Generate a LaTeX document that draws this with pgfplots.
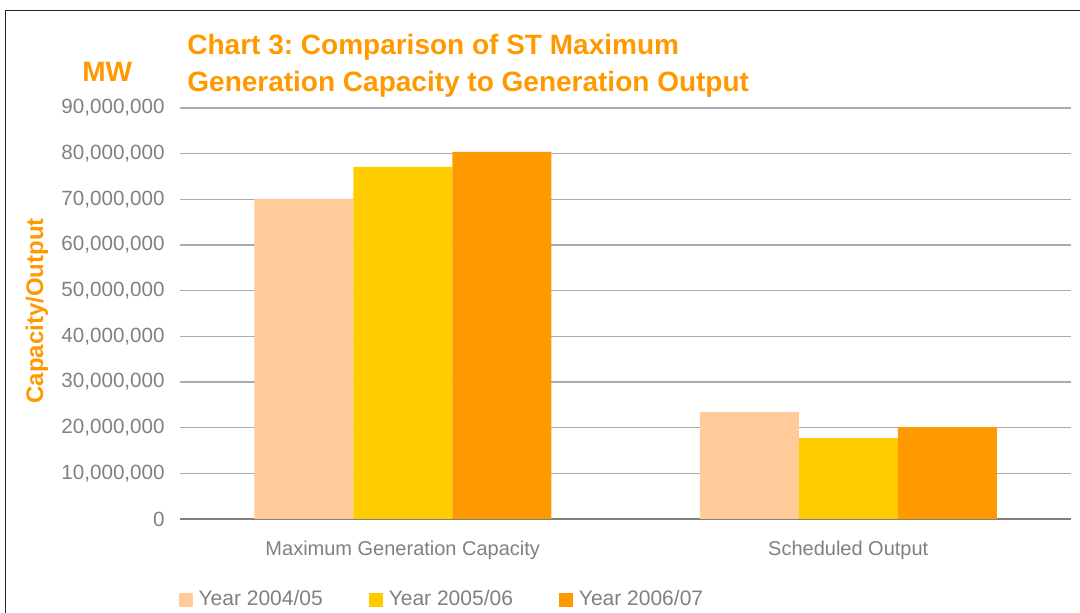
\documentclass[border=0pt]{standalone}
\usepackage{pgfplots}
\pgfplotsset{compat=1.18}
\usepackage{fontspec}
\setmainfont{Liberation Sans}
\frenchspacing
\definecolor{c1}{HTML}{FFCC99}
\definecolor{c2}{HTML}{FFCC00}
\definecolor{c3}{HTML}{FF9900}
\definecolor{ttl}{HTML}{FF9900}
\definecolor{txt}{HTML}{808080}
\definecolor{grd}{HTML}{ABABAB}

\begin{document}
\begin{tikzpicture}
% 1px of the reference = 0.5pt
\path[use as bounding box] (0pt,0pt) rectangle (540pt,306.5pt);
\draw[black!85, line width=0.6pt] (2.75pt,-5pt) -- (2.75pt,301.2pt) -- (545pt,301.2pt);

\begin{axis}[
  at={(90pt,47pt)}, anchor=south west,
  scale only axis, width=445.5pt, height=205.5pt,
  ybar=0pt, bar width=49.5pt,
  xmin=-0.5, xmax=1.5, ymin=0, ymax=90000000,
  xtick={0,1},
  xticklabels={Maximum Generation Capacity, Scheduled Output},
  major x tick style={draw=none},
  extra x ticks={-0.5,0.5,1.5}, extra x tick labels={},
  extra x tick style={tick align=outside, major tick length=3pt,
    tick style={draw=txt, line width=0.6pt}},
  ytick={0,10000000,20000000,30000000,40000000,50000000,60000000,70000000,80000000,90000000},
  scaled y ticks=false,
  /pgf/number format/fixed,
  /pgf/number format/1000 sep={,},
  /pgf/number format/assume math mode=true,
  ymajorgrids, grid style={draw=grd, line width=0.7pt},
  axis x line*=bottom, axis y line*=left,
  y axis line style={draw=none}, major y tick style={draw=none},
  x axis line style={draw=txt, line width=0.7pt},
  tick label style={font=\fontsize{10}{12}\selectfont, text=txt},
  yticklabel style={anchor=east, inner sep=0pt, xshift=-7.5pt,
    font=\fontsize{10.3}{12}\selectfont},
  xticklabel style={anchor=base, inner sep=0pt, yshift=-14pt},
  legend columns=3,
  legend style={at={(-0.002,-0.196)}, anchor=west, draw=none, fill=none,
    inner sep=0pt, font=\fontsize{10.5}{12}\selectfont, text=txt,
    nodes={inner sep=0pt},
    /tikz/every odd column/.append style={column sep=3pt},
    /tikz/every even column/.append style={column sep=23pt}},
  legend cell align=left,
]
\addplot[fill=c1, draw=none,
  legend image code/.code={\fill[c1] (0pt,-3.5pt) rectangle (7pt,3.5pt);}]
  coordinates {(0,70100000) (1,23400000)};
\addplot[fill=c2, draw=none,
  legend image code/.code={\fill[c2] (0pt,-3.5pt) rectangle (7pt,3.5pt);}]
  coordinates {(0,77100000) (1,17700000)};
\addplot[fill=c3, draw=none,
  legend image code/.code={\fill[c3] (0pt,-3.5pt) rectangle (7pt,3.5pt);}]
  coordinates {(0,80400000) (1,20100000)};
\legend{Year 2004/05, Year 2005/06, Year 2006/07}
\end{axis}

% title and axis names
\node[anchor=base west, inner sep=0pt, text=ttl, font=\fontsize{14}{16}\selectfont\bfseries]
  at (93.5pt,279pt) {Chart 3: Comparison of ST Maximum};
\node[anchor=base west, inner sep=0pt, text=ttl, font=\fontsize{14}{16}\selectfont\bfseries]
  at (93.5pt,260.5pt) {Generation Capacity to Generation Output};
\node[anchor=base west, inner sep=0pt, text=ttl, font=\fontsize{14}{16}\selectfont\bfseries]
  at (41pt,265.5pt) {MW};
\node[anchor=base, rotate=90, inner sep=0pt, text=ttl, font=\fontsize{12}{14}\selectfont\bfseries]
  at (21.5pt,151pt) {Capacity/Output};
\end{tikzpicture}
\end{document}
